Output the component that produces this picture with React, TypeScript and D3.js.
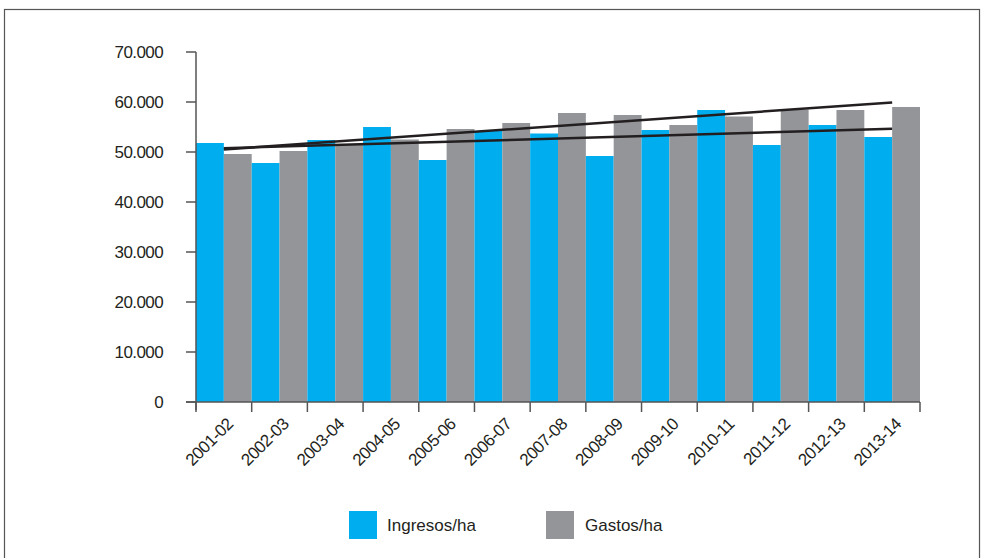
import React from 'react';
import * as d3 from 'd3';

const CAMPAIGNS = ['2001-02', '2002-03', '2003-04', '2004-05', '2005-06', '2006-07', '2007-08', '2008-09', '2009-10', '2010-11', '2011-12', '2012-13', '2013-14'];
const INGRESOS = [51800, 47800, 52400, 55000, 48400, 54200, 53700, 49200, 54400, 58400, 51400, 55400, 53000];
const GASTOS = [49600, 50200, 51500, 52500, 54600, 55800, 57800, 57400, 55400, 57100, 58500, 58400, 59000];
const Y_TICKS = [0, 10000, 20000, 30000, 40000, 50000, 60000, 70000];

const BLUE = '#00aeef';
const GREY = '#939598';
const INK = '#231f20';
const FONT = '"Liberation Sans", Arial, sans-serif';

// least squares line over the category index
const trend = (vals: number[]) => {
  const n = vals.length;
  const mx = d3.mean(vals.map((_, i) => i)) as number;
  const my = d3.mean(vals) as number;
  const sxy = d3.sum(vals, (v, i) => (i - mx) * (v - my));
  const sxx = d3.sum(vals, (_, i) => (i - mx) * (i - mx));
  const slope = sxy / sxx;
  return [0, n - 1].map((i) => ({ i, v: my + slope * (i - mx) }));
};

const App: React.FC = () => {
  const width = 983;
  const height = 558;

  const x = d3.scaleBand<string>().domain(CAMPAIGNS).range([196, 920]).paddingInner(0).paddingOuter(0);
  const y = d3.scaleLinear().domain([0, 70000]).range([402, 52]);
  const half = x.bandwidth() / 2;
  const fmt = (v: number) => (v === 0 ? '0' : d3.format(',')(v).replace(/,/g, '.'));

  const line = d3.line<{ i: number; v: number }>()
    .x((d) => (x(CAMPAIGNS[d.i]) as number) + half)
    .y((d) => y(d.v));

  return (
    <div style={{ position: 'absolute', left: 0, top: 0 }}>
      <svg width={width} height={height} style={{ display: 'block', fontFamily: FONT }}>
        <rect x={4.5} y={9.5} width={975} height={560} fill="#fff" stroke="#555" strokeWidth={1.2} />

        {/* bars */}
        {CAMPAIGNS.map((c, i) => (
          <g key={c}>
            <rect x={x(c)} y={y(INGRESOS[i])} width={half} height={y(0) - y(INGRESOS[i])} fill={BLUE} />
            <rect x={(x(c) as number) + half} y={y(GASTOS[i])} width={half} height={y(0) - y(GASTOS[i])} fill={GREY} />
          </g>
        ))}

        {/* trend lines */}
        <path d={line(trend(GASTOS)) as string} fill="none" stroke={INK} strokeWidth={2.5} />
        <path d={line(trend(INGRESOS)) as string} fill="none" stroke={INK} strokeWidth={2.5} />

        {/* y axis */}
        <line x1={196} x2={196} y1={y(70000)} y2={410} stroke="#555" strokeWidth={1.5} />
        {Y_TICKS.map((t) => (
          <g key={t}>
            <line x1={186} x2={196} y1={y(t)} y2={y(t)} stroke="#555" strokeWidth={1.5} />
            <text x={163} y={y(t)} dy="0.35em" textAnchor="end" fontSize={17} letterSpacing={-0.6} fill={INK}>
              {fmt(t)}
            </text>
          </g>
        ))}

        {/* x axis */}
        <line x1={186} x2={920} y1={y(0)} y2={y(0)} stroke="#555" strokeWidth={1.5} />
        {[...CAMPAIGNS, null].map((c, i) => {
          const xp = c ? (x(c) as number) : 920;
          return <line key={i} x1={xp} x2={xp} y1={y(0)} y2={y(0) + 10} stroke="#555" strokeWidth={1.5} />;
        })}
        {CAMPAIGNS.map((c) => (
          <text
            key={c}
            transform={`translate(${(x(c) as number) + half + 6},${y(0) + 19}) rotate(-45)`}
            textAnchor="end"
            dy="0.35em"
            fontSize={17}
            letterSpacing={-0.5}
            fill={INK}
          >
            {c}
          </text>
        ))}

        {/* legend */}
        <rect x={349} y={511} width={28} height={28} fill={BLUE} />
        <text x={387} y={531} fontSize={17} fill={INK}>Ingresos/ha</text>
        <rect x={546} y={511} width={28} height={28} fill={GREY} />
        <text x={585} y={531} fontSize={17} fill={INK}>Gastos/ha</text>
      </svg>
    </div>
  );
};

export default App;
